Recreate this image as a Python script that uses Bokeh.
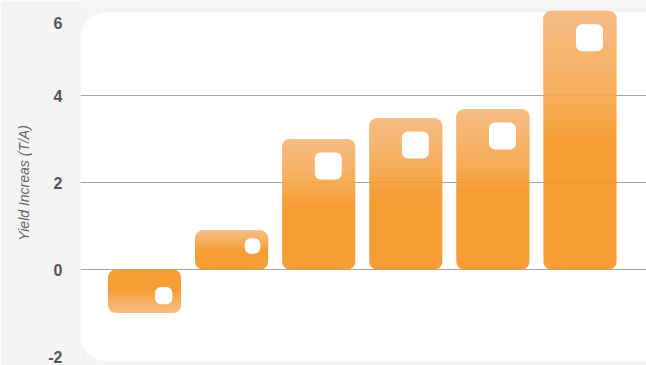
import math
from bokeh.plotting import figure
from bokeh.models import ColumnDataSource, Range1d, FixedTicker, Title, CustomJSTickFormatter
from bokeh.embed import file_html
from bokeh.resources import INLINE

# ---- data ----
bar_index = [0, 1, 2, 3, 4, 5]
yield_increase = [-1.0, 0.9, 3.0, 3.48, 3.69, 5.95]
tick_values = [-2, 0, 2, 4]
grid_values = [0, 2, 4]
top_tick_label = "6"
y_title = "Yield Increas (T/A)"

# ---- layout ----
W, H = 646, 365
LEFT = 80
x_start, x_end = -0.735, 5.764
px_y = 43.5
y_end = 269 / px_y
y_start = -(H - 269) / px_y
px_x = (W - LEFT) / (x_end - x_start)
bar_w = 0.84

BG = "#f4f4f4"
p = figure(width=W, height=H, output_backend="svg", toolbar_location=None,
           x_range=Range1d(x_start, x_end), y_range=Range1d(y_start, y_end),
           x_axis_location=None, min_border_left=LEFT, min_border_right=0,
           min_border_top=0, min_border_bottom=0)
p.background_fill_color = BG
p.border_fill_color = BG
p.outline_line_color = None
p.xgrid.visible = False
p.ygrid.visible = False

# white rounded panel
p.quad(left=[x_start], right=[x_end + 0.3],
       top=[y_end - 12 / px_y], bottom=[y_end - 361 / px_y],
       fill_color="white", line_color=None, border_radius=26)

# grid lines
p.hspan(y=grid_values, line_color="#a6a6a6", line_width=1.2)

# bars
src = ColumnDataSource(dict(x=bar_index, top=yield_increase))
p.vbar(x="x", top="top", bottom=0, width=bar_w, source=src,
       fill_color="#f5921f", fill_alpha=0.9, line_color=None, border_radius=8)

# gradient highlight toward the value end (nested white overlays)
N = 24
a = 1 - (1 - 0.42) ** (1.0 / N)
gl, gr, gt, gb = [], [], [], []
for xi, v in zip(bar_index, yield_increase):
    for k in range(N):
        f = 0.5 + 0.5 * k / N
        gl.append(xi - bar_w / 2)
        gr.append(xi + bar_w / 2)
        if v >= 0:
            gb.append(f * v); gt.append(v)
        else:
            gt.append(f * v); gb.append(v)
p.quad(left=gl, right=gr, top=gt, bottom=gb, fill_color="white",
       fill_alpha=a, line_color=None)

# small white rounded squares
sl, sr, st, sb = [], [], [], []
for xi, v in zip(bar_index, yield_increase):
    h = abs(v) * px_y
    s = min(27.0, 0.4 * h)
    off = s
    cx = xi + bar_w / 2 - off / px_x
    cy = v - math.copysign(off / px_y, v)
    sl.append(cx - s / 2 / px_x); sr.append(cx + s / 2 / px_x)
    st.append(cy + s / 2 / px_y); sb.append(cy - s / 2 / px_y)
p.quad(left=sl, right=sr, top=st, bottom=sb, fill_color="white",
       line_color=None, border_radius=6)

# y axis (the top label "6" sits a little below the canvas edge)
top_label_pos = y_end - 22 / px_y
ax = p.yaxis[0]
ax.ticker = FixedTicker(ticks=tick_values + [top_label_pos])
ax.formatter = CustomJSTickFormatter(
    args=dict(lbl=top_tick_label),
    code="return tick > 5 ? lbl : String(Math.round(tick));")
ax.axis_line_color = None
ax.major_tick_line_color = None
ax.minor_tick_line_color = None
ax.major_tick_out = 0
ax.major_tick_in = 0
ax.major_label_standoff = 18
ax.major_label_text_font = "Liberation Sans"
ax.major_label_text_font_style = "bold"
ax.major_label_text_font_size = "16px"
ax.major_label_text_color = "#555555"

t = Title(text=y_title, align="center", offset=11, standoff=24,
          vertical_align="top",
          text_font="Liberation Sans", text_font_style="italic",
          text_font_size="14px", text_color="#666666")
p.add_layout(t, "left")

open("out.html", "w").write(file_html(p, INLINE))
